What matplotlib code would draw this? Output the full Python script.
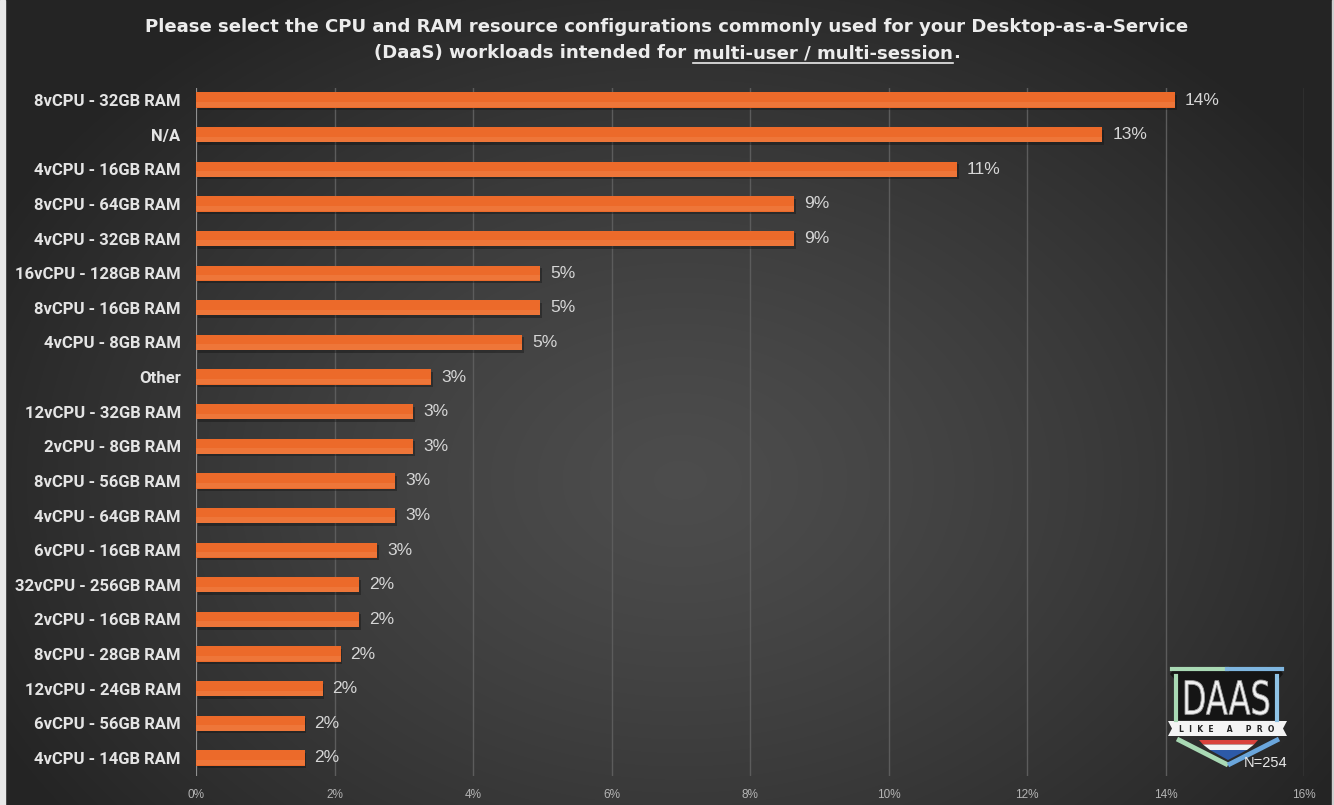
import numpy as np
import matplotlib
matplotlib.use("Agg")
import matplotlib.pyplot as plt
from matplotlib import patheffects
from matplotlib.patches import Polygon, Rectangle, PathPatch
from matplotlib.textpath import TextPath
from matplotlib.font_manager import FontProperties
from matplotlib.transforms import Affine2D

# survey answers, share of all responses (%)
configs = [
    "8vCPU - 32GB RAM", "N/A", "4vCPU - 16GB RAM", "8vCPU - 64GB RAM",
    "4vCPU - 32GB RAM", "16vCPU - 128GB RAM", "8vCPU - 16GB RAM",
    "4vCPU - 8GB RAM", "Other", "12vCPU - 32GB RAM", "2vCPU - 8GB RAM",
    "8vCPU - 56GB RAM", "4vCPU - 64GB RAM", "6vCPU - 16GB RAM",
    "32vCPU - 256GB RAM", "2vCPU - 16GB RAM", "8vCPU - 28GB RAM",
    "12vCPU - 24GB RAM", "6vCPU - 56GB RAM", "4vCPU - 14GB RAM",
]
shares = [14.14, 13.09, 10.99, 8.64, 8.64, 4.97, 4.97, 4.71, 3.40, 3.14,
          3.14, 2.88, 2.88, 2.62, 2.36, 2.36, 2.09, 1.83, 1.57, 1.57]
x_ticks = [0, 2, 4, 6, 8, 10, 12, 14, 16]
n_label = "N=254"

W, H = 1334, 805
fig = plt.figure(figsize=(W / 100, H / 100), dpi=100)
renderer = fig.canvas.get_renderer()

# dark radial background
bg = fig.add_axes([0, 0, 1, 1], zorder=-10)
yy, xx = np.mgrid[0:H, 0:W]
r = np.sqrt(((xx - 680) / 760.0) ** 2 + ((yy - 480) / 560.0) ** 2)
r = np.clip(r, 0, 1)
shade = 0.30 - 0.155 * r ** 1.3
bg.imshow(np.dstack([shade] * 3), extent=[0, W, H, 0], aspect="auto")
bg.add_patch(Rectangle((0, 0), 5, H, color="#e8e8e8"))
bg.add_patch(Rectangle((W - 2, 0), 2, H, color="#cfcfcf"))
bg.set_xlim(0, W)
bg.set_ylim(H, 0)
bg.axis("off")

# bar chart
ax = fig.add_axes([196 / W, 1 - 776 / H, (1304 - 196) / W, (776 - 88) / H])
ax.patch.set_alpha(0)
y = np.arange(len(configs))
shadow = [patheffects.withSimplePatchShadow(offset=(1.2, -1.8),
                                            shadow_rgbFace="#111111",
                                            alpha=0.4),
          patheffects.Normal()]
bars = ax.barh(y, shares, height=0.44, color="#EC6A2A", zorder=3,
               path_effects=shadow)
for b in bars:
    # lighter top edge on each bar
    ax.barh(b.get_y() + b.get_height() * 0.8, b.get_width(),
            height=b.get_height() * 0.35, color="#F28A52", alpha=0.4,
            zorder=4, linewidth=0)

for i, v in enumerate(shares):
    ax.annotate(f"{round(v)}%", (v, i), xytext=(7, 0),
                textcoords="offset points", va="center", ha="left",
                fontsize=12.5, color="#d6d6d6", family="Liberation Sans")

ax.set_xlim(0, 16)
ax.set_ylim(19 + 18 / 34.63, -12 / 34.63)
ax.set_xticks(x_ticks)
ax.set_xticklabels([f"{t}%" for t in x_ticks])
ax.set_yticks(y)
ax.set_yticklabels(configs)
ax.grid(axis="x", color="#5c5c5c", linewidth=1, zorder=0)
ax.axvline(0, color="#9a9a9a", linewidth=1.2, zorder=2)
for s in ax.spines.values():
    s.set_visible(False)
ax.tick_params(axis="x", length=0, pad=9, labelsize=8.5, colors="#b4b4b4")
ax.tick_params(axis="y", length=0, pad=11, labelsize=12, colors="#e4e4e4")
for lbl in ax.get_yticklabels():
    lbl.set_fontweight("bold")
    lbl.set_family("Roboto")
for lbl in ax.get_xticklabels():
    lbl.set_family("Liberation Sans")

# title, second line partly underlined
title1 = ("Please select the CPU and RAM resource configurations "
          "commonly used for your Desktop-as-a-Service")
parts = ["(DaaS) workloads intended for ", "multi-user / multi-session", "."]
title_kw = dict(fontsize=13, fontweight="bold", color="#ececec",
                family="DejaVu Sans")
probe = fig.text(0, 0, title1, **title_kw)
w1 = probe.get_window_extent(renderer).width
probe.remove()
title_kw["fontsize"] = 13 * 1040 / w1
fig.text(0.5, 1 - 27 / H, title1, ha="center", va="center", **title_kw)
widths = []
for p in parts:
    t = fig.text(0, 0, p, **title_kw)
    widths.append(t.get_window_extent(renderer).width)
    t.remove()
x0 = W / 2 - sum(widths) / 2
yl = 1 - 53 / H
for p, w in zip(parts, widths):
    fig.text(x0 / W, yl, p, ha="left", va="center", **title_kw)
    if p.startswith("multi"):
        fig.add_artist(plt.Line2D([x0 / W, (x0 + w) / W],
                                  [yl - 10 / H, yl - 10 / H],
                                  color="#ececec", linewidth=1.2))
    x0 += w

# DAAS logo in the corner
lg = fig.add_axes([0, 0, 1, 1], zorder=5)
lg.set_xlim(0, W)
lg.set_ylim(H, 0)
lg.axis("off")
shield = [(1174, 669), (1280, 669), (1283, 674), (1278, 680), (1278, 720),
          (1175, 720), (1175, 680), (1170, 674)]
lg.add_patch(Polygon(shield, closed=True, facecolor="#151515",
                     edgecolor="none"))
lg.plot([1172, 1227], [669, 669], color="#a9d9b4", lw=3)
lg.plot([1227, 1282], [669, 669], color="#7fb6e0", lw=3)
lg.plot([1176, 1176], [676, 720], color="#a9d9b4", lw=3)
lg.plot([1277, 1277], [676, 720], color="#8fc3e6", lw=3)

# squeeze the word into a tall narrow box
tp = TextPath((0, 0), "DAAS", size=10, prop=FontProperties(family="DejaVu Sans"))
bb = tp.get_extents()
fit = (Affine2D().translate(-bb.x0, -bb.y0)
       .scale(84 / bb.width, -35 / bb.height).translate(1185, 715))
lg.add_patch(PathPatch(fit.transform_path(tp), facecolor="#f0f0f0",
                       edgecolor="#9a9a9a", linewidth=0.6))

lg.add_patch(Polygon([(1168, 721), (1287, 721), (1283, 728.5), (1287, 736),
                      (1168, 736), (1172, 728.5)],
                     closed=True, facecolor="#f4f4f4", edgecolor="none"))
lg.text(1227, 729, "L  I  K  E     A     P  R  O", ha="center", va="center",
        fontsize=5.5, color="#222222", fontweight="bold")
lg.plot([1177, 1228], [739, 765], color="#a9d9b4", lw=3.5,
        solid_capstyle="butt")
lg.plot([1228, 1279], [765, 739], color="#6aa6dc", lw=3.5,
        solid_capstyle="butt")
lg.add_patch(Polygon([(1199, 740), (1258, 740), (1254, 744.5), (1203, 744.5)],
                     closed=True, facecolor="#d9423c", edgecolor="none"))
lg.add_patch(Polygon([(1203, 744.5), (1254, 744.5), (1247, 750), (1210, 750)],
                     closed=True, facecolor="#f4f4f4", edgecolor="none"))
lg.add_patch(Polygon([(1210, 750), (1247, 750), (1228, 760)],
                     closed=True, facecolor="#2d5aa8", edgecolor="none"))
lg.text(1266, 763, n_label, ha="center", va="center", fontsize=10.5,
        color="#e8e8e8", family="Liberation Sans")

fig.savefig("out.png", dpi=100)
